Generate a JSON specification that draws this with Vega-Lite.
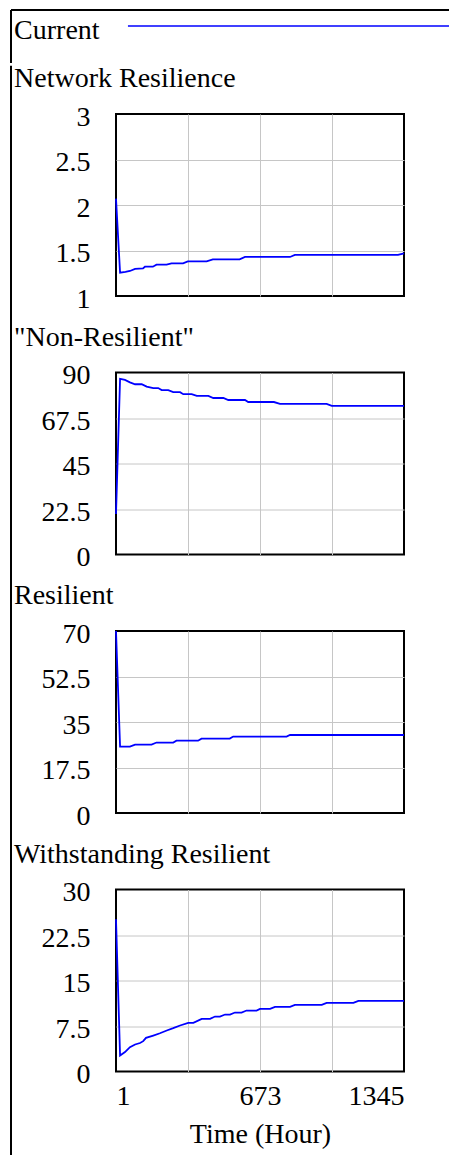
{
  "$schema": "https://vega.github.io/schema/vega-lite/v6.json",
  "background": "white",
  "padding": {"left": 10, "top": 9, "right": 0, "bottom": 0},
  "config": {
    "font": "Liberation Serif, Times New Roman, serif",
    "view": {"stroke": "black", "strokeWidth": 2},
    "axis": {
      "domain": false, "ticks": false, "tickSize": 0, "grid": true,
      "gridColor": "#c6c6c6", "gridWidth": 1,
      "labelFont": "Liberation Serif, Times New Roman, serif", "labelFontSize": 28, "labelColor": "black",
      "titleFont": "Liberation Serif, Times New Roman, serif", "titleFontSize": 28, "titleFontWeight": "normal", "titleColor": "black"
    },
    "title": {"font": "Liberation Serif, Times New Roman, serif", "fontSize": 28, "fontWeight": "normal", "color": "black", "anchor": "start", "frame": "group", "dx": -102, "offset": 10, "baseline": "alphabetic"}
  },
  "datasets": {
    "network": [
      {"t": 1, "v": 2.07}, {"t": 20, "v": 1.256}, {"t": 45, "v": 1.265}, {"t": 66, "v": 1.275}, {"t": 90, "v": 1.297},
      {"t": 127, "v": 1.304}, {"t": 136, "v": 1.322}, {"t": 173, "v": 1.322}, {"t": 190, "v": 1.344}, {"t": 237, "v": 1.344},
      {"t": 260, "v": 1.359}, {"t": 314, "v": 1.359}, {"t": 336, "v": 1.381}, {"t": 424, "v": 1.381}, {"t": 453, "v": 1.403},
      {"t": 578, "v": 1.403}, {"t": 603, "v": 1.429}, {"t": 813, "v": 1.429}, {"t": 836, "v": 1.451}, {"t": 1317, "v": 1.451},
      {"t": 1345, "v": 1.469}
    ],
    "nonres": [
      {"t": 1, "v": 20}, {"t": 20, "v": 86.8}, {"t": 43, "v": 86.3}, {"t": 66, "v": 85.1}, {"t": 90, "v": 84.2},
      {"t": 121, "v": 84.2}, {"t": 144, "v": 83.0}, {"t": 175, "v": 82.3}, {"t": 198, "v": 82.3}, {"t": 214, "v": 81.3},
      {"t": 245, "v": 81.3}, {"t": 268, "v": 80.3}, {"t": 300, "v": 80.3}, {"t": 315, "v": 79.3}, {"t": 354, "v": 79.3},
      {"t": 378, "v": 78.4}, {"t": 432, "v": 78.4}, {"t": 455, "v": 77.4}, {"t": 502, "v": 77.4}, {"t": 525, "v": 76.4},
      {"t": 603, "v": 76.4}, {"t": 618, "v": 75.4}, {"t": 738, "v": 75.4}, {"t": 766, "v": 74.5}, {"t": 984, "v": 74.5},
      {"t": 1008, "v": 73.5}, {"t": 1345, "v": 73.5}
    ],
    "resilient": [
      {"t": 1, "v": 70}, {"t": 20, "v": 25.5}, {"t": 66, "v": 25.5}, {"t": 90, "v": 26.3}, {"t": 167, "v": 26.3},
      {"t": 190, "v": 27.1}, {"t": 268, "v": 27.1}, {"t": 283, "v": 27.8}, {"t": 384, "v": 27.8}, {"t": 400, "v": 28.6},
      {"t": 532, "v": 28.6}, {"t": 548, "v": 29.4}, {"t": 797, "v": 29.4}, {"t": 813, "v": 30.0}, {"t": 1345, "v": 30.0}
    ],
    "withstanding": [
      {"t": 1, "v": 25.1}, {"t": 20, "v": 2.64}, {"t": 43, "v": 3.2}, {"t": 66, "v": 4.0}, {"t": 90, "v": 4.45},
      {"t": 113, "v": 4.7}, {"t": 128, "v": 5.0}, {"t": 141, "v": 5.55}, {"t": 175, "v": 5.93}, {"t": 206, "v": 6.3},
      {"t": 238, "v": 6.76}, {"t": 268, "v": 7.14}, {"t": 300, "v": 7.58}, {"t": 338, "v": 8.02}, {"t": 362, "v": 8.02},
      {"t": 401, "v": 8.68}, {"t": 440, "v": 8.68}, {"t": 463, "v": 9.06}, {"t": 486, "v": 9.06}, {"t": 510, "v": 9.39},
      {"t": 533, "v": 9.39}, {"t": 556, "v": 9.72}, {"t": 587, "v": 9.72}, {"t": 610, "v": 10.05}, {"t": 657, "v": 10.05},
      {"t": 673, "v": 10.33}, {"t": 720, "v": 10.33}, {"t": 743, "v": 10.66}, {"t": 813, "v": 10.66}, {"t": 836, "v": 10.99},
      {"t": 961, "v": 10.99}, {"t": 984, "v": 11.32}, {"t": 1109, "v": 11.32}, {"t": 1132, "v": 11.65}, {"t": 1345, "v": 11.65}
    ],
    "legend": [{"series": "Current"}]
  },
  "spacing": 0,
  "vconcat": [
    {
      "width": 438, "height": 53,
      "view": {"stroke": null},
      "data": {"name": "legend"},
      "layer": [
        {
          "mark": {"type": "rule", "color": "black", "strokeWidth": 2},
          "encoding": {"y": {"datum": 1, "type": "quantitative", "scale": {"domain": [0, 1]}, "axis": null}}
        },
        {
          "mark": {"type": "rule", "color": "black", "strokeWidth": 2},
          "encoding": {"x": {"datum": 0, "type": "quantitative", "scale": {"domain": [0, 1]}, "axis": null}}
        },
        {
          "mark": {"type": "text", "align": "left", "baseline": "alphabetic", "fontSize": 28, "color": "black"},
          "encoding": {
            "text": {"field": "series"},
            "x": {"datum": 0.007, "type": "quantitative"},
            "y": {"datum": 0.453, "type": "quantitative"}
          }
        },
        {
          "mark": {"type": "rule", "color": "#0000ff", "strokeWidth": 1.5},
          "encoding": {
            "x": {"datum": 0.267, "type": "quantitative"},
            "x2": {"datum": 1},
            "y": {"datum": 0.698, "type": "quantitative"}
          }
        }
      ]
    },
    {
      "spacing": 1,
      "hconcat": [
        {
          "width": 1, "height": 1050,
          "view": {"stroke": null},
          "data": {"values": [{}]},
          "mark": {"type": "rule", "color": "black", "strokeWidth": 2},
          "encoding": {
            "x": {"datum": 0, "type": "quantitative", "scale": {"domain": [0, 1]}, "axis": null},
            "y": {"datum": 0, "type": "quantitative", "scale": {"domain": [0, 1]}, "axis": null},
            "y2": {"datum": 1.046}
          }
        },
        {
          "spacing": 8.5,
          "vconcat": [
            {
              "width": 288, "height": 182,
              "title": {"text": "Network Resilience"},
              "data": {"name": "network"},
              "mark": {"type": "line", "color": "#0000ff", "strokeWidth": 1.8},
              "encoding": {
                "x": {"field": "t", "type": "quantitative", "scale": {"domain": [1, 1345], "nice": false, "zero": false},
                      "axis": {"values": [1, 337, 673, 1009, 1345], "labels": false, "title": null,
                               "gridOpacity": {"condition": {"test": "datum.value == 1 || datum.value == 1345", "value": 0}, "value": 1}}},
                "y": {"field": "v", "type": "quantitative", "scale": {"domain": [1, 3], "nice": false, "zero": false},
                      "axis": {"values": [1, 1.5, 2, 2.5, 3], "labelExpr": "'' + datum.value", "title": null, "labelPadding": 26, "labelOffset": 3,
                               "gridOpacity": {"condition": {"test": "datum.value == 1 || datum.value == 3", "value": 0}, "value": 1}}}
              }
            },
            {
              "width": 288, "height": 182,
              "title": {"text": "\"Non-Resilient\""},
              "data": {"name": "nonres"},
              "mark": {"type": "line", "color": "#0000ff", "strokeWidth": 1.8},
              "encoding": {
                "x": {"field": "t", "type": "quantitative", "scale": {"domain": [1, 1345], "nice": false, "zero": false},
                      "axis": {"values": [1, 337, 673, 1009, 1345], "labels": false, "title": null,
                               "gridOpacity": {"condition": {"test": "datum.value == 1 || datum.value == 1345", "value": 0}, "value": 1}}},
                "y": {"field": "v", "type": "quantitative", "scale": {"domain": [0, 90], "nice": false},
                      "axis": {"values": [0, 22.5, 45, 67.5, 90], "labelExpr": "'' + datum.value", "title": null, "labelPadding": 26, "labelOffset": 3,
                               "gridOpacity": {"condition": {"test": "datum.value == 0 || datum.value == 90", "value": 0}, "value": 1}}}
              }
            },
            {
              "width": 288, "height": 182,
              "title": {"text": "Resilient"},
              "data": {"name": "resilient"},
              "mark": {"type": "line", "color": "#0000ff", "strokeWidth": 1.8},
              "encoding": {
                "x": {"field": "t", "type": "quantitative", "scale": {"domain": [1, 1345], "nice": false, "zero": false},
                      "axis": {"values": [1, 337, 673, 1009, 1345], "labels": false, "title": null,
                               "gridOpacity": {"condition": {"test": "datum.value == 1 || datum.value == 1345", "value": 0}, "value": 1}}},
                "y": {"field": "v", "type": "quantitative", "scale": {"domain": [0, 70], "nice": false},
                      "axis": {"values": [0, 17.5, 35, 52.5, 70], "labelExpr": "'' + datum.value", "title": null, "labelPadding": 26, "labelOffset": 3,
                               "gridOpacity": {"condition": {"test": "datum.value == 0 || datum.value == 70", "value": 0}, "value": 1}}}
              }
            },
            {
              "width": 288, "height": 182,
              "title": {"text": "Withstanding Resilient"},
              "data": {"name": "withstanding"},
              "mark": {"type": "line", "color": "#0000ff", "strokeWidth": 1.8},
              "encoding": {
                "x": {"field": "t", "type": "quantitative", "scale": {"domain": [1, 1345], "nice": false, "zero": false},
                      "axis": {"values": [1, 337, 673, 1009, 1345], "title": "Time (Hour)", "labelPadding": 11, "titlePadding": 10,
                               "labelExpr": "datum.value == 337 || datum.value == 1009 ? '' : '' + datum.value",
                               "gridOpacity": {"condition": {"test": "datum.value == 1 || datum.value == 1345", "value": 0}, "value": 1}}},
                "y": {"field": "v", "type": "quantitative", "scale": {"domain": [0, 30], "nice": false},
                      "axis": {"values": [0, 7.5, 15, 22.5, 30], "labelExpr": "'' + datum.value", "title": null, "labelPadding": 26, "labelOffset": 3,
                               "gridOpacity": {"condition": {"test": "datum.value == 0 || datum.value == 30", "value": 0}, "value": 1}}}
              }
            }
          ]
        }
      ]
    }
  ]
}
